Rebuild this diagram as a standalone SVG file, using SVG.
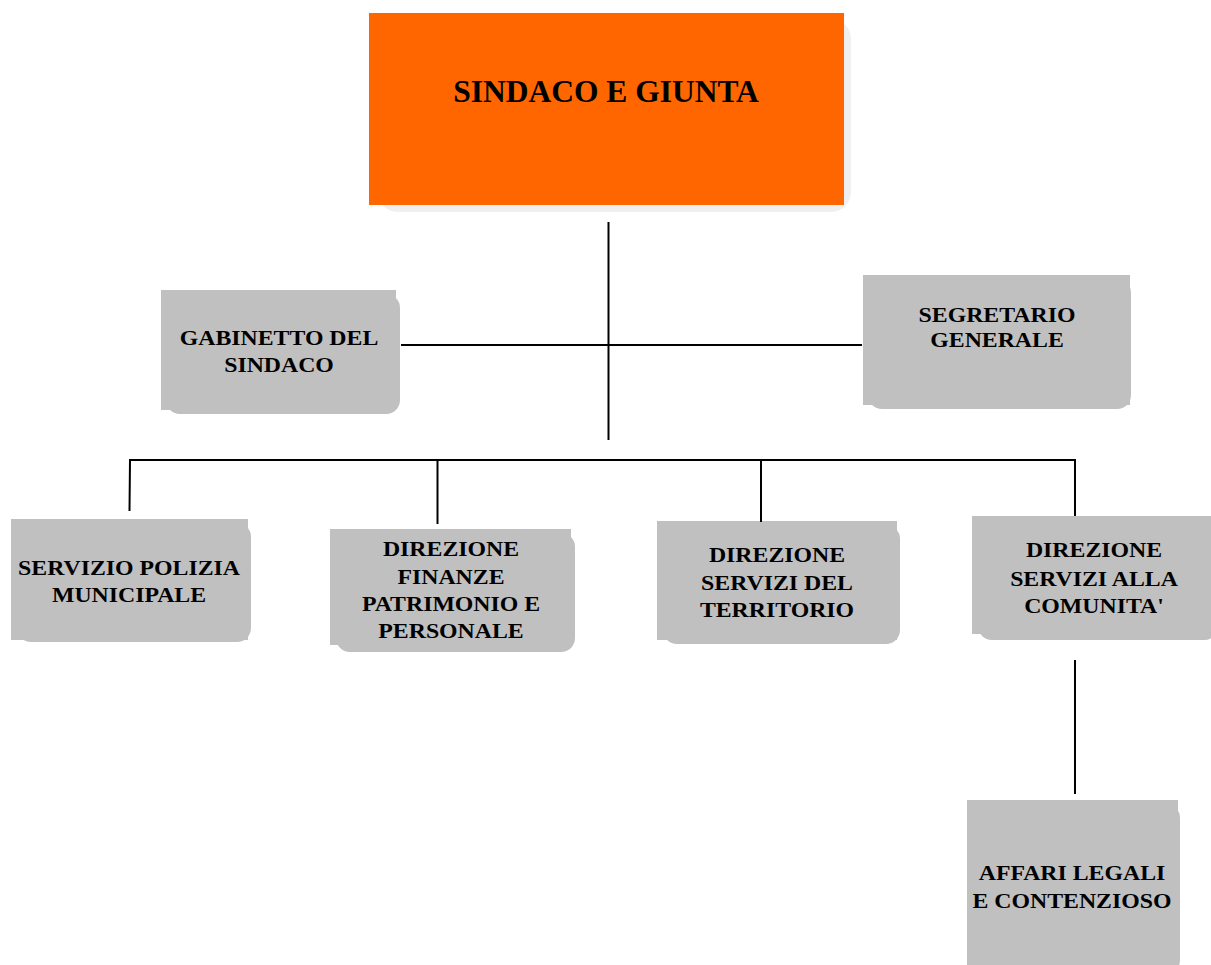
<svg xmlns="http://www.w3.org/2000/svg" width="1211" height="965" viewBox="0 0 1211 965">
<style>
.box{fill:#C0C0C0}
.sh{fill:#C0C0C0}
.top{fill:#FF6600}
.topsh{fill:#F0F0F0}
.t{font-family:"Liberation Serif","Times New Roman",serif;font-weight:bold;font-size:20px;fill:#000;text-anchor:middle}
.tb{font-family:"Liberation Serif","Times New Roman",serif;font-weight:bold;font-size:31.5px;fill:#000;text-anchor:middle}
.ln{stroke:#000;stroke-width:2;fill:none}
</style>
<rect width="1211" height="965" fill="#fff"/>
<g id="sindaco">
<rect class="topsh" x="378" y="19" width="473" height="193" rx="20"/>
<rect class="top" x="369" y="13" width="475" height="192"/>
<text class="tb" x="606" y="102">SINDACO E GIUNTA</text>
</g>
<g id="gabinetto">
<rect class="sh" x="166" y="294" width="234" height="120" rx="14"/>
<rect class="box" x="161" y="290" width="235" height="120"/>
<g transform="translate(279,0) scale(1.19,1)"><text class="t" x="0" y="345.5">GABINETTO DEL</text><text class="t" x="0" y="372.5">SINDACO</text></g>
</g>
<g id="segretario">
<rect class="sh" x="868" y="279" width="263" height="130" rx="14"/>
<rect class="box" x="863" y="275" width="267" height="130"/>
<g transform="translate(997,0) scale(1.19,1)"><text class="t" x="0" y="322.5">SEGRETARIO</text><text class="t" x="0" y="347">GENERALE</text></g>
</g>
<g id="polizia">
<rect class="sh" x="17" y="523" width="234" height="119" rx="14"/>
<rect class="box" x="11" y="519" width="237" height="121"/>
<g transform="translate(129,0) scale(1.19,1)"><text class="t" x="0" y="575">SERVIZIO POLIZIA</text><text class="t" x="0" y="602">MUNICIPALE</text></g>
</g>
<g id="finanze">
<rect class="sh" x="336" y="533" width="239" height="119" rx="14"/>
<rect class="box" x="330" y="529" width="241" height="116"/>
<g transform="translate(451,0) scale(1.19,1)"><text class="t" x="0" y="556">DIREZIONE</text><text class="t" x="0" y="584">FINANZE</text><text class="t" x="0" y="611.5">PATRIMONIO E</text><text class="t" x="0" y="638.5">PERSONALE</text></g>
</g>
<g id="territorio">
<rect class="sh" x="663" y="525" width="237" height="119" rx="14"/>
<rect class="box" x="657" y="521" width="240" height="119"/>
<g transform="translate(777,0) scale(1.19,1)"><text class="t" x="0" y="562.5">DIREZIONE</text><text class="t" x="0" y="590">SERVIZI DEL</text><text class="t" x="0" y="617.5">TERRITORIO</text></g>
</g>
<g id="comunita">
<rect class="sh" x="978" y="520" width="240" height="120" rx="14"/>
<rect class="box" x="972" y="516" width="239" height="118"/>
<g transform="translate(1094,0) scale(1.19,1)"><text class="t" x="0" y="557.5">DIREZIONE</text><text class="t" x="0" y="586">SERVIZI ALLA</text><text class="t" x="0" y="613.5">COMUNITA'</text></g>
</g>
<g id="affari">
<rect class="sh" x="973" y="804" width="207" height="170" rx="14"/>
<rect class="box" x="967" y="800" width="211" height="165"/>
<g transform="translate(1072,0) scale(1.19,1)"><text class="t" x="0" y="880">AFFARI LEGALI</text><text class="t" x="0" y="908">E CONTENZIOSO</text></g>
</g>
<g id="connectors">
<line class="ln" x1="608.5" y1="222" x2="608.5" y2="440"/>
<line class="ln" x1="401" y1="345" x2="862" y2="345"/>
<polyline class="ln" points="129.5,511 130,460 1075,460 1075,516"/>
<line class="ln" x1="437.5" y1="460" x2="437.5" y2="524"/>
<line class="ln" x1="761" y1="460" x2="761" y2="522"/>
<line class="ln" x1="1075" y1="660" x2="1075" y2="794"/>
</g>
</svg>
